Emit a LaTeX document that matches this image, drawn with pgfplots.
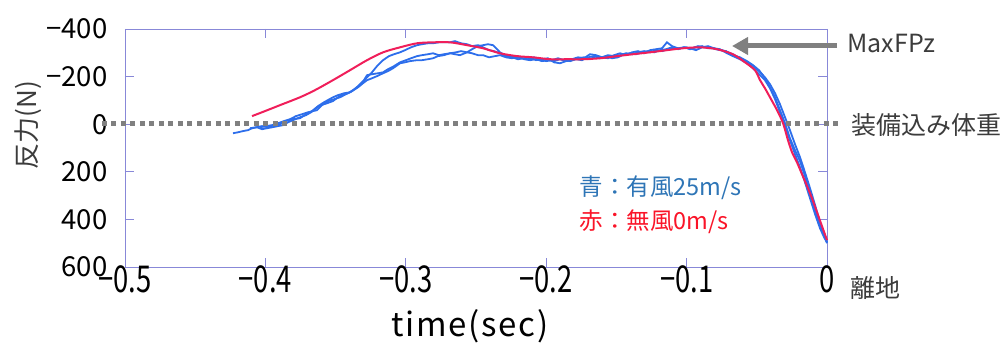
\documentclass[border=0pt]{standalone}
\usepackage{fontspec}
\setmainfont{Noto Sans CJK JP}
\newfontfamily\xtickfont[FakeStretch=0.74]{Noto Sans CJK JP}
\newfontfamily\xlabfont[LetterSpace=5]{Noto Sans CJK JP}
\usepackage{pgfplots}
\pgfplotsset{compat=1.18}
\usetikzlibrary{arrows.meta}
\definecolor{axc}{RGB}{136,136,216}
\definecolor{bluec}{RGB}{45,110,235}
\definecolor{redc}{RGB}{240,30,90}
\definecolor{legb}{RGB}{46,117,182}
\definecolor{legr}{RGB}{250,20,40}
\definecolor{grayc}{RGB}{128,128,128}
\definecolor{txt}{RGB}{60,60,60}
\begin{document}
\begin{tikzpicture}[x=1pt,y=1pt]
\begin{axis}[at={(0,0)},anchor=south west,scale only axis,width=702pt,height=238pt,
  xmin=-0.5,xmax=0,ymin=-400,ymax=600,y dir=reverse,
  xtick={-0.5,-0.4,-0.3,-0.2,-0.1,0},xticklabels={−0.5,−0.4,−0.3,−0.2,−0.1,0},
  ytick={-400,-200,0,200,400,600},yticklabels={−400,−200,0,200,400,600},
  tick align=inside,major tick length=9pt,
  axis line style={axc,line width=0.8pt},every tick/.style={axc,line width=0.8pt},
  yticklabel style={font=\fontsize{27.5}{27.5}\selectfont,text=black,xshift=-14pt},
  xticklabel style={font=\xtickfont\fontsize{37}{37}\selectfont,text=black,yshift=5pt},
  clip=false]
\addplot[bluec,line width=1.8pt] coordinates {
(-0.4231,38) (-0.4195,34) (-0.4160,29) (-0.4124,25) (-0.4095,17) (-0.4060,13) (-0.4024,21) (-0.3989,17) (-0.3953,13) (-0.3910,8) (-0.3875,4) (-0.3839,-8) (-0.3803,-17) (-0.3754,-29) (-0.3711,-38) (-0.3675,-50) (-0.3640,-67) (-0.3604,-80) (-0.3561,-88) (-0.3519,-97) (-0.3483,-113) (-0.3447,-126) (-0.3412,-130) (-0.3376,-143) (-0.3340,-155) (-0.3305,-172) (-0.3276,-185) (-0.3241,-193) (-0.3205,-202) (-0.3162,-214) (-0.3127,-223) (-0.3091,-235) (-0.3041,-256) (-0.3006,-260) (-0.2970,-265) (-0.2920,-269) (-0.2885,-269) (-0.2842,-273) (-0.2806,-277) (-0.2771,-286) (-0.2728,-290) (-0.2685,-298) (-0.2650,-294) (-0.2614,-290) (-0.2564,-302) (-0.2528,-298) (-0.2486,-290) (-0.2450,-290) (-0.2407,-281) (-0.2365,-286) (-0.2329,-290)
(-0.2286,-281) (-0.2244,-277) (-0.2201,-286) (-0.2158,-273) (-0.2115,-269) (-0.2073,-273) (-0.2030,-265) (-0.1987,-269) (-0.1944,-265) (-0.1902,-273) (-0.1859,-265) (-0.1816,-269) (-0.1774,-277) (-0.1731,-281) (-0.1688,-273) (-0.1645,-286) (-0.1603,-281) (-0.1560,-290) (-0.1517,-286) (-0.1474,-290) (-0.1432,-298) (-0.1389,-294) (-0.1346,-302) (-0.1303,-307) (-0.1261,-302) (-0.1218,-311) (-0.1175,-307) (-0.1132,-315) (-0.1090,-319) (-0.1047,-319) (-0.1004,-323) (-0.0962,-319) (-0.0919,-328) (-0.0876,-323) (-0.0833,-323) (-0.0791,-315) (-0.0748,-311) (-0.0705,-302) (-0.0670,-294)
(-0.0620,-277) (-0.0570,-260) (-0.0527,-244) (-0.0484,-223) (-0.0442,-197) (-0.0406,-168) (-0.0370,-130) (-0.0335,-84) (-0.0299,-29) (-0.0264,25) (-0.0228,84) (-0.0192,139) (-0.0157,202) (-0.0121,269) (-0.0085,340) (-0.0050,412) (-0.0021,458) (0,496)};
\addplot[bluec,line width=1.8pt] coordinates {
(-0.4110,17) (-0.4067,13) (-0.4024,8) (-0.3981,13) (-0.3939,4) (-0.3896,0) (-0.3853,-13) (-0.3810,-21) (-0.3754,-25) (-0.3711,-42) (-0.3668,-55) (-0.3625,-76) (-0.3583,-92) (-0.3519,-113) (-0.3483,-122) (-0.3440,-130) (-0.3397,-134) (-0.3362,-147) (-0.3319,-168) (-0.3276,-197) (-0.3241,-218) (-0.3205,-244) (-0.3162,-269) (-0.3120,-286) (-0.3084,-294) (-0.3041,-302) (-0.3006,-311) (-0.2963,-323) (-0.2920,-332) (-0.2885,-336) (-0.2842,-340) (-0.2806,-340) (-0.2764,-344) (-0.2728,-344) (-0.2685,-344) (-0.2650,-349) (-0.2607,-340) (-0.2564,-336) (-0.2528,-328) (-0.2486,-332) (-0.2450,-323) (-0.2407,-311) (-0.2372,-307) (-0.2329,-298)
(-0.2286,-286) (-0.2244,-281) (-0.2201,-273) (-0.2158,-277) (-0.2115,-281) (-0.2073,-269) (-0.2030,-273) (-0.1987,-277) (-0.1944,-260) (-0.1902,-256) (-0.1859,-265) (-0.1816,-273) (-0.1774,-281) (-0.1731,-277) (-0.1688,-294) (-0.1645,-290) (-0.1603,-281) (-0.1560,-277) (-0.1517,-290) (-0.1474,-298) (-0.1432,-290) (-0.1389,-302) (-0.1346,-307) (-0.1303,-298) (-0.1261,-311) (-0.1218,-315) (-0.1175,-319) (-0.1140,-344) (-0.1104,-328) (-0.1061,-319) (-0.1019,-323) (-0.0976,-315) (-0.0933,-323) (-0.0890,-328) (-0.0848,-319) (-0.0805,-319) (-0.0762,-311) (-0.0719,-307) (-0.0670,-290)
(-0.0620,-281) (-0.0570,-265) (-0.0527,-248) (-0.0484,-227) (-0.0442,-193) (-0.0406,-155) (-0.0370,-113) (-0.0335,-59) (-0.0299,-4) (-0.0264,59) (-0.0228,109) (-0.0192,155) (-0.0157,218) (-0.0121,290) (-0.0085,361) (-0.0050,420) (-0.0021,466) (0,500)};
\addplot[bluec,line width=1.8pt] coordinates {
(-0.4038,13) (-0.3996,8) (-0.3953,4) (-0.3910,-4) (-0.3868,-13) (-0.3825,-21) (-0.3782,-34) (-0.3739,-42) (-0.3697,-50) (-0.3632,-59) (-0.3597,-80) (-0.3554,-97) (-0.3511,-105) (-0.3469,-113) (-0.3426,-126) (-0.3383,-139) (-0.3340,-160) (-0.3298,-185) (-0.3276,-206) (-0.3241,-210) (-0.3198,-214) (-0.3162,-218) (-0.3127,-231) (-0.3084,-244) (-0.3041,-260) (-0.2999,-269) (-0.2963,-277) (-0.2920,-286) (-0.2885,-290) (-0.2842,-294) (-0.2806,-298) (-0.2764,-290) (-0.2728,-294) (-0.2685,-298) (-0.2642,-302) (-0.2607,-307) (-0.2564,-302) (-0.2528,-315) (-0.2486,-328) (-0.2450,-332) (-0.2415,-336) (-0.2379,-332) (-0.2350,-315) (-0.2329,-302) (-0.2293,-290) (-0.2258,-286) (-0.2208,-281)
(-0.2172,-277) (-0.2130,-273) (-0.2087,-281) (-0.2044,-273) (-0.2001,-265) (-0.1959,-269) (-0.1916,-277) (-0.1873,-269) (-0.1830,-265) (-0.1788,-273) (-0.1745,-269) (-0.1702,-281) (-0.1660,-286) (-0.1617,-277) (-0.1574,-286) (-0.1531,-277) (-0.1489,-281) (-0.1446,-294) (-0.1403,-298) (-0.1360,-294) (-0.1318,-302) (-0.1275,-307) (-0.1232,-302) (-0.1189,-311) (-0.1147,-315) (-0.1104,-323) (-0.1061,-315) (-0.1019,-323) (-0.0976,-319) (-0.0933,-311) (-0.0890,-323) (-0.0848,-328) (-0.0805,-319) (-0.0762,-315) (-0.0712,-298) (-0.0670,-286)
(-0.0620,-273) (-0.0570,-256) (-0.0527,-235) (-0.0484,-210) (-0.0442,-185) (-0.0406,-151) (-0.0370,-105) (-0.0335,-50) (-0.0299,8) (-0.0264,67) (-0.0228,126) (-0.0192,181) (-0.0157,244) (-0.0121,311) (-0.0085,378) (-0.0050,437) (-0.0021,475) (0,496)};
\addplot[redc,line width=2pt,smooth] coordinates {
(-0.4095,-34) (-0.4003,-55) (-0.3896,-80) (-0.3754,-113) (-0.3647,-143) (-0.3519,-185) (-0.3397,-227) (-0.3276,-269) (-0.3162,-302) (-0.3041,-323) (-0.2920,-340) (-0.2806,-344) (-0.2685,-344) (-0.2564,-332) (-0.2450,-319) (-0.2329,-298) (-0.2208,-286) (-0.2094,-281) (-0.1973,-273) (-0.1852,-273) (-0.1738,-273) (-0.1617,-277) (-0.1496,-286) (-0.1382,-294) (-0.1261,-302) (-0.1140,-311) (-0.1026,-319) (-0.0904,-323) (-0.0783,-315) (-0.0670,-294) (-0.0584,-260) (-0.0513,-227) (-0.0477,-185) (-0.0442,-151) (-0.0406,-113) (-0.0356,-59) (-0.0313,-4) (-0.0278,67) (-0.0249,118) (-0.0214,160) (-0.0178,210) (-0.0142,260) (-0.0107,311) (-0.0071,370) (-0.0036,428) (0,487)};
\addplot[grayc,line width=5pt,dash pattern=on 5pt off 4.5pt] coordinates {(-0.5164,-4) (0.0078,-4)};
\end{axis}
\node[anchor=west,font=\fontsize{25}{25}\selectfont,text=txt] at (719,223) {MaxFPz};
\draw[grayc,line width=5pt,-{Triangle[length=16pt,width=17pt]}] (712,221) -- (607,221);
\node[anchor=west,font=\fontsize{25}{25}\selectfont,text=txt] at (723,142) {装備込み体重};
\node[anchor=west,font=\fontsize{25}{25}\selectfont,text=txt] at (722,-21) {離地};
\node[anchor=west,font=\fontsize{23.5}{23.5}\selectfont,text=legb] at (451,79) {青：有風25m/s};
\node[anchor=west,font=\fontsize{23.5}{23.5}\selectfont,text=legr] at (451,45) {赤：無風0m/s};
\node[rotate=90,font=\fontsize{26}{26}\selectfont,text=txt] at (-97,142) {反力(N)};
\node[font=\xlabfont\fontsize{33}{33}\selectfont,text=black] at (345,-59) {time(sec)};
\pgfresetboundingbox
\path (-125,-76) rectangle (878,267);
\end{tikzpicture}
\end{document}
